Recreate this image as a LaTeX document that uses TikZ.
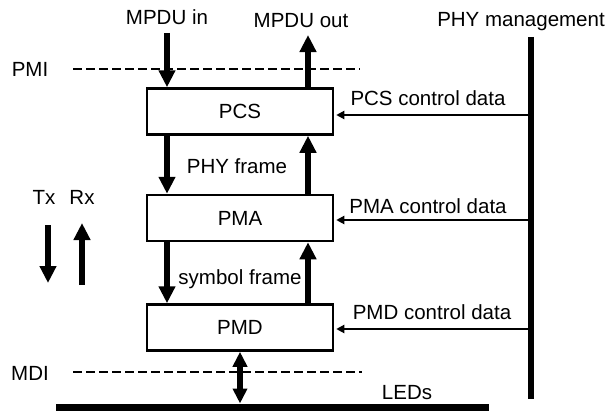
\documentclass[tikz,border=0pt]{standalone}
\usepackage{fontspec}
\setmainfont{Liberation Sans}
\usetikzlibrary{arrows.meta}

\begin{document}
\begin{tikzpicture}[x=1pt, y=-1pt, font=\fontsize{20.5}{24}\selectfont,
  blk/.style={draw, line width=2.5pt, minimum width=186pt, minimum height=46pt, inner sep=0pt},
  lbl/.style={anchor=base, inner sep=0pt},
  big/.style={line width=5.5pt, -{Triangle[length=17pt, width=16pt]}},
  both/.style={line width=5.5pt, {Triangle[length=15pt, width=14pt]}-{Triangle[length=15pt, width=14pt]}},
  ctl/.style={line width=2.2pt, -{Triangle[length=8pt, width=8pt]}, shorten >=2pt},
  iface/.style={line width=2.5pt, dash pattern=on 9pt off 4pt},
  bus/.style={line width=6pt}]
\useasboundingbox (0,0) rectangle (609,412);

% layers
\node[blk] (PCS) at (240,111.5) {PCS};
\node[blk] (PMA) at (240,218) {PMA};
\node[blk] (PMD) at (240,327.5) {PMD};

% interfaces
\coordinate (pmil) at (73,69);
\coordinate (pmir) at (360,69);
\coordinate (mdil) at (73,372);
\coordinate (mdir) at (362,372);
\draw[iface] (pmil) -- (pmir);
\draw[iface] (mdil) -- (mdir);
\node[lbl] (pmi) at (30,76) {PMI};
\node[lbl] (mdi) at (30,380) {MDI};

% data path
\coordinate (mpin) at (167,33);
\coordinate (mpout) at (308,35);
\node[lbl] (inlbl) at (167,25) {MPDU in};
\node[lbl] (outlbl) at (301,28) {MPDU out};
\draw[big] (mpin) -- (PCS.north -| mpin);
\draw[big] (PCS.north -| mpout) -- (mpout);
\draw[big] (PCS.south -| mpin) -- (PMA.north -| mpin);
\draw[big] (PMA.north -| mpout) -- (PCS.south -| mpout);
\draw[big] (PMA.south -| mpin) -- (PMD.north -| mpin);
\draw[big] (PMD.north -| mpout) -- (PMA.south -| mpout);
\node[lbl] (phyf) at (237,173) {PHY frame};
\node[lbl] (symf) at (240,284) {symbol frame};

% LEDs
\coordinate (ledl) at (56,407);
\coordinate (ledr) at (489,407);
\draw[bus, line width=7pt] (ledl) -- (ledr);
\draw[both] (PMD.south) -- ([yshift=3.5pt]PMD.south |- ledl);
\node[lbl] (leds) at (407,399) {LEDs};

% management
\coordinate (mgt) at (531,37);
\coordinate (mgb) at (531,399);
\draw[bus] (mgt) -- (mgb);
\node[lbl] (mgmt) at (521,27) {PHY management};
\coordinate (pcsc) at (531,115);
\coordinate (pmac) at (531,220);
\coordinate (pmdc) at (531,329);
\draw[ctl] (pcsc) -- (PCS.east |- pcsc);
\draw[ctl] (pmac) -- (PMA.east |- pmac);
\draw[ctl] (pmdc) -- (PMD.east |- pmdc);
\node[lbl] (pcsl) at (428,105) {PCS control data};
\node[lbl] (pmal) at (428,213) {PMA control data};
\node[lbl] (pmdl) at (432,319) {PMD control data};

% directions
\coordinate (txa) at (48,225);
\coordinate (txb) at (48,283);
\coordinate (rxa) at (82,285);
\coordinate (rxb) at (82,223);
\draw[big] (txa) -- (txb);
\draw[big] (rxa) -- (rxb);
\node[lbl] (tx) at (44,204) {Tx};
\node[lbl] (rx) at (82,204) {Rx};
\end{tikzpicture}
\end{document}
